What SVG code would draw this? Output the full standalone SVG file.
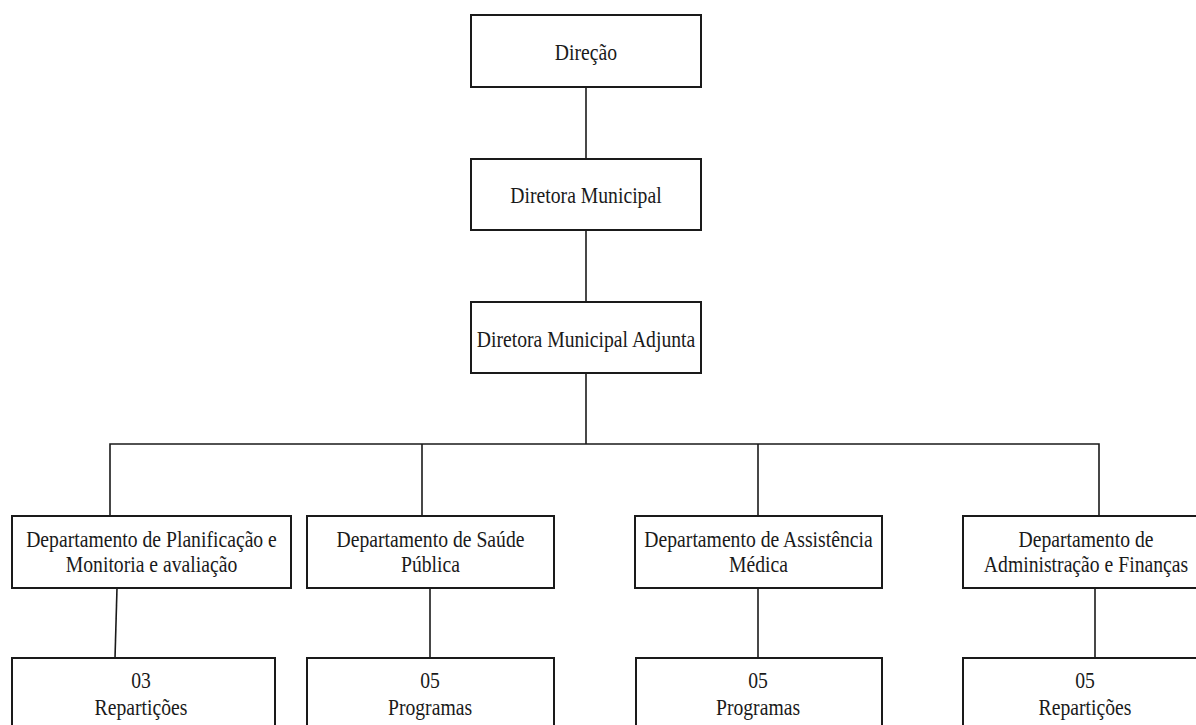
<svg xmlns="http://www.w3.org/2000/svg" width="1196" height="725" viewBox="0 0 1196 725">
  <style>
    .box { fill: #ffffff; stroke: #1a1a1a; stroke-width: 2; }
    .lbl { font-size: 24px; fill: #1a1a1a; text-anchor: middle; }
    .wire { fill: none; stroke: #1a1a1a; stroke-width: 1.6; }
  </style>
  <rect width="1196" height="725" fill="#ffffff"/>

  <!-- connectors -->
  <g id="connectors">
    <line class="wire" x1="586" y1="87" x2="586" y2="159"/>
    <line class="wire" x1="586" y1="230" x2="586" y2="302"/>
    <line class="wire" x1="586" y1="373" x2="586" y2="444"/>
    <polyline class="wire" points="110,516 110,444 1099,444 1099,516"/>
    <line class="wire" x1="422" y1="444" x2="422" y2="516"/>
    <line class="wire" x1="758" y1="444" x2="758" y2="516"/>
    <line class="wire" x1="117" y1="588" x2="115" y2="658"/>
    <line class="wire" x1="430" y1="588" x2="430" y2="658"/>
    <line class="wire" x1="758" y1="588" x2="758" y2="658"/>
    <line class="wire" x1="1095" y1="588" x2="1095" y2="658"/>
  </g>

  <!-- labels use a narrowed serif: matrix(0.82 0 0 1 x y) places each baseline centre -->
  <g font-family="Liberation Serif, Times New Roman, DejaVu Serif, serif">
    <g id="direcao">
      <rect class="box" x="471" y="15" width="230" height="72"/>
      <text class="lbl" transform="matrix(0.82 0 0 1 586 60)">Direção</text>
    </g>

    <g id="diretora-municipal">
      <rect class="box" x="471" y="159" width="230" height="71"/>
      <text class="lbl" transform="matrix(0.82 0 0 1 586 203)">Diretora Municipal</text>
    </g>

    <g id="diretora-adjunta">
      <rect class="box" x="471" y="302" width="230" height="71"/>
      <text class="lbl" transform="matrix(0.82 0 0 1 586 347)">Diretora Municipal Adjunta</text>
    </g>

    <g id="dep-planificacao">
      <rect class="box" x="12" y="516" width="279" height="72"/>
      <text class="lbl" transform="matrix(0.82 0 0 1 151.5 547)">Departamento de Planificação e</text>
      <text class="lbl" transform="matrix(0.82 0 0 1 151.5 572)">Monitoria e avaliação</text>
    </g>

    <g id="dep-saude">
      <rect class="box" x="307" y="516" width="247" height="72"/>
      <text class="lbl" transform="matrix(0.82 0 0 1 430.5 547)">Departamento de Saúde</text>
      <text class="lbl" transform="matrix(0.82 0 0 1 430.5 572)">Pública</text>
    </g>

    <g id="dep-assistencia">
      <rect class="box" x="635" y="516" width="247" height="72"/>
      <text class="lbl" transform="matrix(0.82 0 0 1 758.5 547)">Departamento de Assistência</text>
      <text class="lbl" transform="matrix(0.82 0 0 1 758.5 572)">Médica</text>
    </g>

    <g id="dep-administracao">
      <rect class="box" x="963" y="516" width="246" height="72"/>
      <text class="lbl" transform="matrix(0.82 0 0 1 1086 547)">Departamento de</text>
      <text class="lbl" transform="matrix(0.82 0 0 1 1086 572)">Administração e Finanças</text>
    </g>

    <g id="reparticoes-03">
      <rect class="box" x="12" y="658" width="263" height="80"/>
      <text class="lbl" transform="matrix(0.82 0 0 1 141 688)">03</text>
      <text class="lbl" transform="matrix(0.82 0 0 1 141 715)">Repartições</text>
    </g>

    <g id="programas-saude">
      <rect class="box" x="307" y="658" width="247" height="80"/>
      <text class="lbl" transform="matrix(0.82 0 0 1 430 688)">05</text>
      <text class="lbl" transform="matrix(0.82 0 0 1 430 715)">Programas</text>
    </g>

    <g id="programas-assistencia">
      <rect class="box" x="636" y="658" width="246" height="80"/>
      <text class="lbl" transform="matrix(0.82 0 0 1 758 688)">05</text>
      <text class="lbl" transform="matrix(0.82 0 0 1 758 715)">Programas</text>
    </g>

    <g id="reparticoes-05">
      <rect class="box" x="963" y="658" width="246" height="80"/>
      <text class="lbl" transform="matrix(0.82 0 0 1 1085 688)">05</text>
      <text class="lbl" transform="matrix(0.82 0 0 1 1085 715)">Repartições</text>
    </g>
  </g>
</svg>
